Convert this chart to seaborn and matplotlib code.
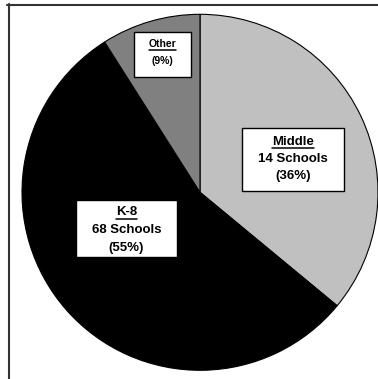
import matplotlib
matplotlib.use("Agg")
import matplotlib.pyplot as plt
import seaborn as sns
from matplotlib.patches import Rectangle
from matplotlib.lines import Line2D

# School types and their share of all schools (percent)
categories = ["Middle", "K-8", "Other"]
shares = [36, 55, 9]
school_counts = [14, 68, None]
slice_colors = ["#c0c0c0", "#000000", "#808080"]

sns.set_theme(style="white")
plt.rcParams["font.family"] = ["Liberation Sans", "DejaVu Sans"]

W, H = 378, 379
fig = plt.figure(figsize=(W / 100, H / 100), dpi=100)
fig.patch.set_facecolor("white")

# Pie geometry in figure pixels (top-left origin)
CX, CY, R = 200.0, 192.3, 178.0
ax = fig.add_axes([(CX - R) / W, (H - (CY + R)) / H, 2 * R / W, 2 * R / H])

wedges, _ = ax.pie(
    shares,
    colors=slice_colors,
    startangle=90,
    counterclock=False,
    radius=1.0,
    wedgeprops=dict(edgecolor="black", linewidth=0.8),
)
for w in wedges:
    w.set_clip_on(False)
ax.set_xlim(-1, 1)
ax.set_ylim(-1, 1)
ax.set_aspect("auto")
ax.axis("off")


def px(x, y):
    """Pixel position (top-left origin) -> pie data coordinates."""
    return (x - CX) / R, (CY - y) / R


# Label box layout: box corners (px), text centre x, line y's, underline y, font size
layout = {
    "Middle": dict(box=(242, 128, 344, 191), cx=293, ys=(141.7, 158.7, 175.7), uy=147.5, fs=9.5),
    "K-8": dict(box=(76, 200, 177, 257), cx=126.5, ys=(212.3, 230.0, 248.3), uy=218.5, fs=9.5),
    "Other": dict(box=(134, 32, 191, 77), cx=162.5, ys=(44.3, 61.0), uy=50.3, fs=7.5),
}

titles = []
for cat, share, count in zip(categories, shares, school_counts):
    L = layout[cat]
    x0, y0, x1, y1 = L["box"]
    bx, by = px(x0, y1)
    ax.add_patch(Rectangle((bx, by), (x1 - x0) / R, (y1 - y0) / R,
                           facecolor="white", edgecolor="black", linewidth=1.0,
                           zorder=3, clip_on=False))
    lines = [cat]
    if count is not None:
        lines.append(f"{count} Schools")
    lines.append(f"({share}%)")
    for i, (txt, yy) in enumerate(zip(lines, L["ys"])):
        tx, ty = px(L["cx"], yy)
        t = ax.text(tx, ty, txt, ha="center", va="center", fontsize=L["fs"],
                    fontweight="bold", color="black", zorder=4)
        if i == 0:
            titles.append((t, L))

# Underline each category title
fig.canvas.draw()
renderer = fig.canvas.get_renderer()
for t, L in titles:
    bb = t.get_window_extent(renderer)
    ux0, _ = ax.transData.inverted().transform((bb.x0, 0))
    ux1, _ = ax.transData.inverted().transform((bb.x1, 0))
    _, uy = px(0, L["uy"])
    ax.add_line(Line2D([ux0, ux1], [uy, uy], color="black", linewidth=1.1,
                       zorder=5, clip_on=False))

# Page frame: top and left rules
fig.add_artist(Line2D([7 / W, 1], [1 - 4.5 / H, 1 - 4.5 / H], transform=fig.transFigure,
                      color="#333333", linewidth=1.5))
fig.add_artist(Line2D([8.5 / W, 8.5 / W], [0, 1 - 4 / H], transform=fig.transFigure,
                      color="#333333", linewidth=1.5))

fig.savefig("out.png", dpi=100, facecolor="white")
